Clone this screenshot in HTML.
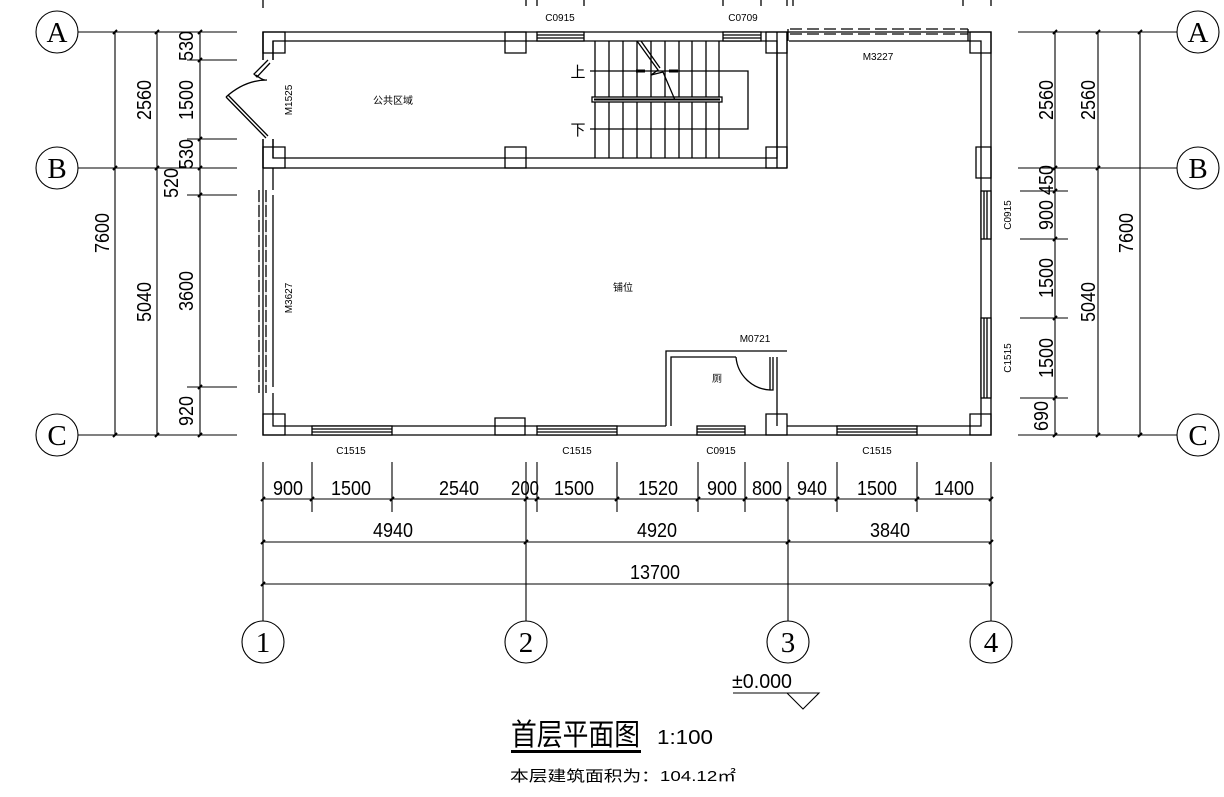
<!DOCTYPE html>
<html><head><meta charset="utf-8"><style>
html,body{margin:0;padding:0;background:#fff;}
svg{display:block}
text{font-family:"Liberation Sans","Noto Sans CJK SC",sans-serif;fill:#000}
text.sf{font-family:"Liberation Serif",serif;font-size:29px}
.d{font-size:20px}
.s{font-size:10px}
</style></head><body>
<svg width="1224" height="797" viewBox="0 0 1224 797" xmlns="http://www.w3.org/2000/svg">
<g stroke="#000" stroke-width="1.3" fill="none">
<path d="M263 0V8M526 0V6M537 0V6M584 0V6M723 0V6M761 0V6M787 0V6M793 0V6M963 0V6M991 0V6"/>
<path d="M263 32H991V435H263Z"/>
<path d="M273 41H777V158H273Z"/>
<path d="M777 32V168M787 32V168M263 168H787"/>
<path d="M789 41H981V426H787M273 168V426H666"/>
<path d="M790 29H968M790 34H968" stroke-dasharray="12,5"/>
<path d="M788 29V41M968 29V41"/>
<path d="M263 32h22v21h-22zM263 147h22v21h-22zM263 414h22v21h-22zM505 32h21v21h-21zM505 147h21v21h-21zM766 32h21v21h-21zM766 147h21v21h-21zM766 414h21v21h-21zM970 32h21v21h-21zM970 414h21v21h-21zM495 418h30v17h-30z"/>
<path d="M976 147h15v31h-15z"/>
<g fill="#fff"><rect x="537" y="32" width="47" height="9"/><rect x="723" y="32" width="38" height="9"/>
<rect x="312" y="426" width="80" height="9"/><rect x="537" y="426" width="80" height="9"/><rect x="697" y="426" width="48" height="9"/><rect x="837" y="426" width="80" height="9"/>
<rect x="981" y="191" width="10" height="48"/><rect x="981" y="318" width="10" height="80"/></g>
<path d="M537 35H584M537 38H584M723 35H761M723 38H761M312 429H392M312 432H392M537 429H617M537 432H617M697 429H745M697 432H745M837 429H917M837 432H917M984 191V239M987 191V239M984 318V398M987 318V398"/>
<rect x="262" y="60" width="12" height="79" fill="#fff" stroke="none"/>
<path d="M263 32V60M263 139V168M273 41V60M273 139V158"/>
<path d="M268 60L254 74L257 77L270 63M226 97L266 138M228 95L268 136M226 97Q245 80 267 80M256 75Q262 80 265 80"/>
<rect x="262" y="190" width="12" height="203" fill="#fff" stroke="none"/>
<path d="M263 190V393M273 195V387M259 190V393M266 190V393" />
<path d="M259 190V393M266 190V393" stroke="#fff" stroke-width="1.3" stroke-dasharray="0,12,3,0"/>
<path d="M666 426V351H787M671 426V357H736M777 357V426"/>
<path d="M770 357V390H773V357M736 357A36 36 0 0 0 770 390"/>
<path d="M595 41V158M609 41V158M623 41V158M637 41V158M651 41V158M665 41V158M679 41V158M692 41V158M706 41V158M719 41V158"/>
<path d="M590 71H748V129H590"/>
<rect x="592" y="97" width="130" height="5" fill="#fff"/>
<path d="M594 99.5H720" stroke-width="2"/>
<path d="M637 41L658 70L651 75L663 72L675 100M641 41L660 68"/>
<path d="M636 71l9 0M678 71l-9 0" stroke-width="3"/>
</g>
<g stroke="#000" stroke-width="1.1" fill="none">
<circle cx="57" cy="32" r="21"/><circle cx="57" cy="168" r="21"/><circle cx="57" cy="435" r="21"/>
<circle cx="1198" cy="32" r="21"/><circle cx="1198" cy="168" r="21"/><circle cx="1198" cy="435" r="21"/>
<circle cx="263" cy="642" r="21"/><circle cx="526" cy="642" r="21"/><circle cx="788" cy="642" r="21"/><circle cx="991" cy="642" r="21"/>
<path d="M78 32H237M78 168H237M78 435H237M1018 32H1177M1018 168H1177M1018 435H1177"/>
<path d="M115 32V435M157 32V435M200 32V435M1055 32V435M1098 32V435M1140 32V435"/>
<path d="M187 60H237M187 139H237M187 195H237M187 387H237M1020 191H1068M1020 239H1068M1020 318H1068M1020 398H1068"/>
<path d="M263 462V621M526 462V621M788 462V621M991 462V621"/>
<path d="M312 462V512M392 462V512M537 462V512M617 462V512M698 462V512M745 462V512M837 462V512M917 462V512"/>
<path d="M263 499H991M263 542H991M263 584H991"/>
<path d="M733 693H819L803 709L787 693"/>
</g>
<g stroke="#000" stroke-width="2">
<path d="M113 34l4-4M155 34l4-4M198 34l4-4M113 170l4-4M155 170l4-4M198 170l4-4M113 437l4-4M155 437l4-4M198 437l4-4M198 62l4-4M198 141l4-4M198 197l4-4M198 389l4-4"/>
<path d="M1053 34l4-4M1096 34l4-4M1138 34l4-4M1053 170l4-4M1096 170l4-4M1053 437l4-4M1096 437l4-4M1138 437l4-4M1053 193l4-4M1053 241l4-4M1053 320l4-4M1053 400l4-4"/>
<path d="M261 501l4-4M310 501l4-4M390 501l4-4M524 501l4-4M535 501l4-4M615 501l4-4M696 501l4-4M743 501l4-4M786 501l4-4M835 501l4-4M915 501l4-4M989 501l4-4M261 544l4-4M524 544l4-4M786 544l4-4M989 544l4-4M261 586l4-4M989 586l4-4"/>
</g>
<g text-anchor="middle">
<text class="sf" x="57" y="42">A</text><text class="sf" x="57" y="178">B</text><text class="sf" x="57" y="445">C</text>
<text class="sf" x="1198" y="42">A</text><text class="sf" x="1198" y="178">B</text><text class="sf" x="1198" y="445">C</text>
<text class="sf" x="263" y="652">1</text><text class="sf" x="526" y="652">2</text><text class="sf" x="788" y="652">3</text><text class="sf" x="991" y="652">4</text>
</g>
<g class="d" text-anchor="middle">
<text x="288" y="495" textLength="30" lengthAdjust="spacingAndGlyphs">900</text>
<text x="351" y="495" textLength="40" lengthAdjust="spacingAndGlyphs">1500</text>
<text x="459" y="495" textLength="40" lengthAdjust="spacingAndGlyphs">2540</text>
<text x="525" y="495" textLength="28" lengthAdjust="spacingAndGlyphs">200</text>
<text x="574" y="495" textLength="40" lengthAdjust="spacingAndGlyphs">1500</text>
<text x="658" y="495" textLength="40" lengthAdjust="spacingAndGlyphs">1520</text>
<text x="722" y="495" textLength="30" lengthAdjust="spacingAndGlyphs">900</text>
<text x="767" y="495" textLength="30" lengthAdjust="spacingAndGlyphs">800</text>
<text x="812" y="495" textLength="30" lengthAdjust="spacingAndGlyphs">940</text>
<text x="877" y="495" textLength="40" lengthAdjust="spacingAndGlyphs">1500</text>
<text x="954" y="495" textLength="40" lengthAdjust="spacingAndGlyphs">1400</text>
<text x="393" y="537" textLength="40" lengthAdjust="spacingAndGlyphs">4940</text>
<text x="657" y="537" textLength="40" lengthAdjust="spacingAndGlyphs">4920</text>
<text x="890" y="537" textLength="40" lengthAdjust="spacingAndGlyphs">3840</text>
<text x="655" y="579" textLength="50" lengthAdjust="spacingAndGlyphs">13700</text>
<text x="762" y="688" textLength="60" lengthAdjust="spacingAndGlyphs">±0.000</text>
</g>
<g class="d" text-anchor="middle">
<text transform="translate(109,233) rotate(-90)" textLength="40" lengthAdjust="spacingAndGlyphs">7600</text>
<text transform="translate(151,100) rotate(-90)" textLength="40" lengthAdjust="spacingAndGlyphs">2560</text>
<text transform="translate(151,302) rotate(-90)" textLength="40" lengthAdjust="spacingAndGlyphs">5040</text>
<text transform="translate(193,46) rotate(-90)" textLength="30" lengthAdjust="spacingAndGlyphs">530</text>
<text transform="translate(193,100) rotate(-90)" textLength="40" lengthAdjust="spacingAndGlyphs">1500</text>
<text transform="translate(193,154) rotate(-90)" textLength="30" lengthAdjust="spacingAndGlyphs">530</text>
<text transform="translate(178,183) rotate(-90)" textLength="30" lengthAdjust="spacingAndGlyphs">520</text>
<text transform="translate(193,291) rotate(-90)" textLength="40" lengthAdjust="spacingAndGlyphs">3600</text>
<text transform="translate(193,411) rotate(-90)" textLength="30" lengthAdjust="spacingAndGlyphs">920</text>
<text transform="translate(1053,100) rotate(-90)" textLength="40" lengthAdjust="spacingAndGlyphs">2560</text>
<text transform="translate(1095,100) rotate(-90)" textLength="40" lengthAdjust="spacingAndGlyphs">2560</text>
<text transform="translate(1053,180) rotate(-90)" textLength="30" lengthAdjust="spacingAndGlyphs">450</text>
<text transform="translate(1053,215) rotate(-90)" textLength="30" lengthAdjust="spacingAndGlyphs">900</text>
<text transform="translate(1053,278) rotate(-90)" textLength="40" lengthAdjust="spacingAndGlyphs">1500</text>
<text transform="translate(1095,302) rotate(-90)" textLength="40" lengthAdjust="spacingAndGlyphs">5040</text>
<text transform="translate(1053,358) rotate(-90)" textLength="40" lengthAdjust="spacingAndGlyphs">1500</text>
<text transform="translate(1048,416) rotate(-90)" textLength="30" lengthAdjust="spacingAndGlyphs">690</text>
<text transform="translate(1133,233) rotate(-90)" textLength="40" lengthAdjust="spacingAndGlyphs">7600</text>
</g>
<g class="s" text-anchor="middle">
<text x="560" y="21">C0915</text><text x="743" y="21">C0709</text>
<text x="351" y="454">C1515</text><text x="577" y="454">C1515</text><text x="721" y="454">C0915</text><text x="877" y="454">C1515</text>
<text x="878" y="60">M3227</text><text x="755" y="342">M0721</text>
<text transform="translate(292,100) rotate(-90)">M1525</text>
<text transform="translate(292,298) rotate(-90)">M3627</text>
<text transform="translate(1011,215) rotate(-90)">C0915</text>
<text transform="translate(1011,358) rotate(-90)">C1515</text>
<text x="393" y="104">公共区域</text>
<text x="623" y="291">铺位</text>
<text x="717" y="382">厕</text>
</g>
<text x="578" y="77" font-size="15" text-anchor="middle">上</text>
<text x="578" y="135" font-size="15" text-anchor="middle">下</text>
<text x="511" y="745" font-size="30" textLength="129" lengthAdjust="spacingAndGlyphs">首层平面图</text>
<rect x="511" y="750" width="130" height="3" fill="#000"/>
<text x="657" y="744" font-size="20" textLength="56" lengthAdjust="spacingAndGlyphs">1:100</text>
<text x="510" y="781" font-size="15" textLength="226" lengthAdjust="spacingAndGlyphs">本层建筑面积为：104.12㎡</text>
</svg>
</body></html>
